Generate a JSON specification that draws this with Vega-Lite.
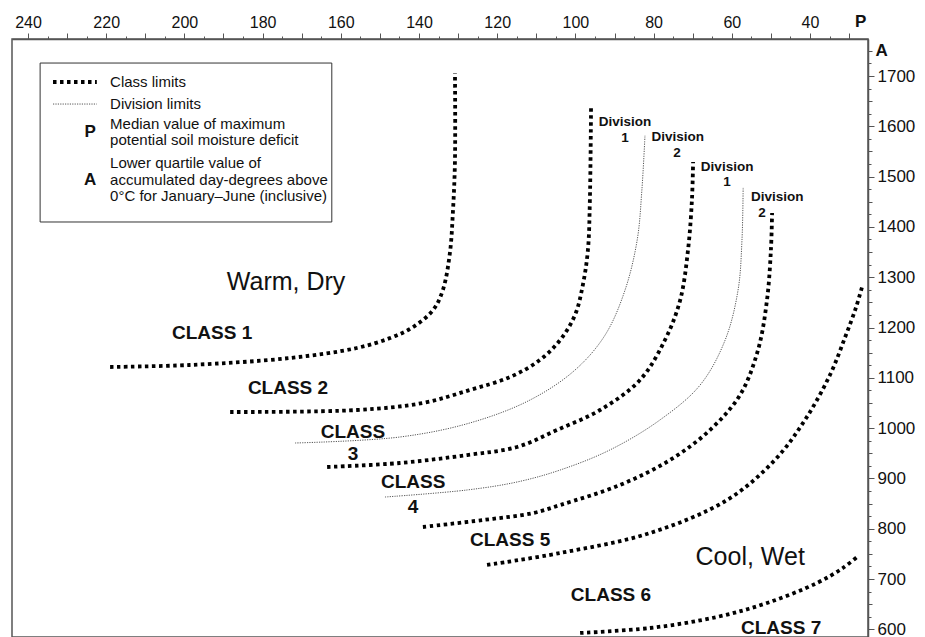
{
  "$schema": "https://vega.github.io/schema/vega-lite/v6.json",
  "width": 856,
  "height": 598,
  "autosize": {"type": "none"},
  "padding": {"left": 12, "top": 39, "right": 57, "bottom": 0},
  "background": "white",
  "config": {"view": {"stroke": "#555", "strokeWidth": 1.5}, "font": "Liberation Sans"},
  "datasets": {
    "curves": [
      {"c": "class1", "k": "class", "i": 0, "x": 219.0, "y": 1121.5},
      {"c": "class1", "k": "class", "i": 1, "x": 198.6, "y": 1125.5},
      {"c": "class1", "k": "class", "i": 2, "x": 173.0, "y": 1139.4},
      {"c": "class1", "k": "class", "i": 3, "x": 155.9, "y": 1159.3},
      {"c": "class1", "k": "class", "i": 4, "x": 147.4, "y": 1179.1},
      {"c": "class1", "k": "class", "i": 5, "x": 141.5, "y": 1201.0},
      {"c": "class1", "k": "class", "i": 6, "x": 136.4, "y": 1234.8},
      {"c": "class1", "k": "class", "i": 7, "x": 133.9, "y": 1274.6},
      {"c": "class1", "k": "class", "i": 8, "x": 132.1, "y": 1348.1},
      {"c": "class1", "k": "class", "i": 9, "x": 131.3, "y": 1433.6},
      {"c": "class1", "k": "class", "i": 10, "x": 130.8, "y": 1533.0},
      {"c": "class1", "k": "class", "i": 11, "x": 130.8, "y": 1706.0},
      {"c": "class2", "k": "class", "i": 0, "x": 188.3, "y": 1032},
      {"c": "class2", "k": "class", "i": 1, "x": 155.9, "y": 1036},
      {"c": "class2", "k": "class", "i": 2, "x": 139.0, "y": 1050},
      {"c": "class2", "k": "class", "i": 3, "x": 127.0, "y": 1075.8},
      {"c": "class2", "k": "class", "i": 4, "x": 116.7, "y": 1101.6},
      {"c": "class2", "k": "class", "i": 5, "x": 109.1, "y": 1135.4},
      {"c": "class2", "k": "class", "i": 6, "x": 103.9, "y": 1175.2},
      {"c": "class2", "k": "class", "i": 7, "x": 100.1, "y": 1224.9},
      {"c": "class2", "k": "class", "i": 8, "x": 98.1, "y": 1284.5},
      {"c": "class2", "k": "class", "i": 9, "x": 96.8, "y": 1354.1},
      {"c": "class2", "k": "class", "i": 10, "x": 96.3, "y": 1453.5},
      {"c": "class2", "k": "class", "i": 11, "x": 96.0, "y": 1642.3},
      {"c": "div3", "k": "division", "i": 0, "x": 171.7, "y": 970.4},
      {"c": "div3", "k": "division", "i": 1, "x": 144.9, "y": 982.3},
      {"c": "div3", "k": "division", "i": 2, "x": 127.0, "y": 1010.2},
      {"c": "div3", "k": "division", "i": 3, "x": 111.6, "y": 1055.9},
      {"c": "div3", "k": "division", "i": 4, "x": 100.1, "y": 1115.5},
      {"c": "div3", "k": "division", "i": 5, "x": 92.4, "y": 1185.1},
      {"c": "div3", "k": "division", "i": 6, "x": 87.3, "y": 1274.6},
      {"c": "div3", "k": "division", "i": 7, "x": 84.2, "y": 1374},
      {"c": "div3", "k": "division", "i": 8, "x": 83.0, "y": 1473.4},
      {"c": "div3", "k": "division", "i": 9, "x": 82.2, "y": 1582.7},
      {"c": "class3", "k": "class", "i": 0, "x": 163.5, "y": 922.7},
      {"c": "class3", "k": "class", "i": 1, "x": 144.9, "y": 930.6},
      {"c": "class3", "k": "class", "i": 2, "x": 127.7, "y": 946.5},
      {"c": "class3", "k": "class", "i": 3, "x": 114.9, "y": 962.5},
      {"c": "class3", "k": "class", "i": 4, "x": 104.7, "y": 996.2},
      {"c": "class3", "k": "class", "i": 5, "x": 93.7, "y": 1036},
      {"c": "class3", "k": "class", "i": 6, "x": 83.5, "y": 1095.6},
      {"c": "class3", "k": "class", "i": 7, "x": 77.1, "y": 1175.2},
      {"c": "class3", "k": "class", "i": 8, "x": 73.2, "y": 1254.7},
      {"c": "class3", "k": "class", "i": 9, "x": 71.2, "y": 1354.1},
      {"c": "class3", "k": "class", "i": 10, "x": 70.2, "y": 1453.5},
      {"c": "class3", "k": "class", "i": 11, "x": 69.9, "y": 1529},
      {"c": "div4", "k": "division", "i": 0, "x": 148.7, "y": 863},
      {"c": "div4", "k": "division", "i": 1, "x": 127.7, "y": 877},
      {"c": "div4", "k": "division", "i": 2, "x": 114.9, "y": 892.9},
      {"c": "div4", "k": "division", "i": 3, "x": 103.9, "y": 916.7},
      {"c": "div4", "k": "division", "i": 4, "x": 91.2, "y": 956.5},
      {"c": "div4", "k": "division", "i": 5, "x": 78.4, "y": 1016.1},
      {"c": "div4", "k": "division", "i": 6, "x": 68.1, "y": 1085.7},
      {"c": "div4", "k": "division", "i": 7, "x": 61.7, "y": 1175.2},
      {"c": "div4", "k": "division", "i": 8, "x": 58.4, "y": 1274.6},
      {"c": "div4", "k": "division", "i": 9, "x": 57.4, "y": 1374},
      {"c": "div4", "k": "division", "i": 10, "x": 57.1, "y": 1479.3},
      {"c": "class4", "k": "class", "i": 0, "x": 139.0, "y": 803.4},
      {"c": "class4", "k": "class", "i": 1, "x": 123.6, "y": 817.3},
      {"c": "class4", "k": "class", "i": 2, "x": 110.8, "y": 831.2},
      {"c": "class4", "k": "class", "i": 3, "x": 103.9, "y": 847.1},
      {"c": "class4", "k": "class", "i": 4, "x": 88.6, "y": 886.9},
      {"c": "class4", "k": "class", "i": 5, "x": 75.8, "y": 936.6},
      {"c": "class4", "k": "class", "i": 6, "x": 65.6, "y": 996.2},
      {"c": "class4", "k": "class", "i": 7, "x": 57.9, "y": 1065.8},
      {"c": "class4", "k": "class", "i": 8, "x": 53.3, "y": 1155.3},
      {"c": "class4", "k": "class", "i": 9, "x": 51.0, "y": 1254.7},
      {"c": "class4", "k": "class", "i": 10, "x": 50.0, "y": 1354.1},
      {"c": "class4", "k": "class", "i": 11, "x": 49.7, "y": 1427.6},
      {"c": "class5", "k": "class", "i": 0, "x": 122.6, "y": 727.9},
      {"c": "class5", "k": "class", "i": 1, "x": 103.9, "y": 751.7},
      {"c": "class5", "k": "class", "i": 2, "x": 80.9, "y": 791.5},
      {"c": "class5", "k": "class", "i": 3, "x": 61.2, "y": 857.1},
      {"c": "class5", "k": "class", "i": 4, "x": 49.0, "y": 936.6},
      {"c": "class5", "k": "class", "i": 5, "x": 41.3, "y": 1016.1},
      {"c": "class5", "k": "class", "i": 6, "x": 34.9, "y": 1105.6},
      {"c": "class5", "k": "class", "i": 7, "x": 31.0, "y": 1181.1},
      {"c": "class5", "k": "class", "i": 8, "x": 28.2, "y": 1240.8},
      {"c": "class5", "k": "class", "i": 9, "x": 26.7, "y": 1280.5},
      {"c": "class6", "k": "class", "i": 0, "x": 98.8, "y": 592.7},
      {"c": "class6", "k": "class", "i": 1, "x": 80.9, "y": 602.6},
      {"c": "class6", "k": "class", "i": 2, "x": 63.8, "y": 624.5},
      {"c": "class6", "k": "class", "i": 3, "x": 51.0, "y": 652.3},
      {"c": "class6", "k": "class", "i": 4, "x": 38.2, "y": 692.1},
      {"c": "class6", "k": "class", "i": 5, "x": 31.6, "y": 721.9},
      {"c": "class6", "k": "class", "i": 6, "x": 28.0, "y": 743.8},
      {"c": "leg-class", "k": "class", "i": 0, "x": 233.6, "y": 1688.1},
      {"c": "leg-class", "k": "class", "i": 1, "x": 222.4, "y": 1688.1},
      {"c": "leg-div", "k": "division", "i": 0, "x": 233.6, "y": 1644.3},
      {"c": "leg-div", "k": "division", "i": 1, "x": 222.4, "y": 1644.3}
    ],
    "labels": [
      {"k": "region", "text": "Warm, Dry", "x": 174.0, "y": 1290.5},
      {"k": "region", "text": "Cool, Wet", "x": 55.3, "y": 743.8},
      {"k": "class", "text": "CLASS 1", "x": 192.9, "y": 1189.1},
      {"k": "class", "text": "CLASS 2", "x": 173.5, "y": 1079.7},
      {"k": "class", "text": "CLASS", "x": 156.9, "y": 992.3},
      {"k": "class", "text": "3", "x": 156.9, "y": 948.5},
      {"k": "class", "text": "CLASS", "x": 141.5, "y": 892.9},
      {"k": "class", "text": "4", "x": 141.5, "y": 843.2},
      {"k": "class", "text": "CLASS 5", "x": 116.7, "y": 777.6},
      {"k": "class", "text": "CLASS 6", "x": 90.9, "y": 668.2},
      {"k": "class", "text": "CLASS 7", "x": 47.4, "y": 602.6},
      {"k": "division", "text": "Division", "x": 87.3, "y": 1608.6},
      {"k": "division", "text": "1", "x": 87.3, "y": 1576.7},
      {"k": "division", "text": "Division", "x": 73.8, "y": 1578.7},
      {"k": "division", "text": "2", "x": 74.0, "y": 1546.9},
      {"k": "division", "text": "Division", "x": 61.2, "y": 1519.1},
      {"k": "division", "text": "1", "x": 61.2, "y": 1489.3},
      {"k": "division", "text": "Division", "x": 48.4, "y": 1459.5},
      {"k": "division", "text": "2", "x": 52.3, "y": 1427.6},
      {"k": "legend", "text": "Class limits", "x": 219.0, "y": 1688.1},
      {"k": "legend", "text": "Division limits", "x": 219.0, "y": 1644.3},
      {"k": "legend", "text": "Median value of maximum", "x": 219.0, "y": 1604.6},
      {"k": "legend", "text": "potential soil moisture deficit", "x": 219.0, "y": 1572.8},
      {"k": "legend", "text": "Lower quartile value of", "x": 219.0, "y": 1527.0},
      {"k": "legend", "text": "accumulated day-degrees above", "x": 219.0, "y": 1493.2},
      {"k": "legend", "text": "0°C for January–June (inclusive)", "x": 219.0, "y": 1461.4},
      {"k": "symbol", "text": "P", "x": 224.1, "y": 1588.7},
      {"k": "symbol", "text": "A", "x": 224.1, "y": 1493.2}
    ],
    "box": [
      {"x": 236.9, "x2": 162.3, "y": 1725.8, "y2": 1409.8}
    ]
  },
  "encoding": {
    "x": {
      "field": "x", "type": "quantitative",
      "scale": {"domain": [25.17, 244.09], "reverse": true, "nice": false, "zero": false},
      "axis": {
        "orient": "top", "title": null, "grid": false,
        "values": [30,35,40,45,50,55,60,65,70,75,80,85,90,95,100,105,110,115,120,125,130,135,140,145,150,155,160,165,170,175,180,185,190,195,200,205,210,215,220,225,230,235,240],
        "format": "d",
        "labelExpr": "datum.value == 30 ? 'P' : (datum.value % 20 == 0 ? datum.label : '')",
        "labelFontSize": {"condition": {"test": "datum.value == 30", "value": 17}, "value": 16},
        "labelFontWeight": {"condition": {"test": "datum.value == 30", "value": "bold"}, "value": "normal"},
        "labelOffset": {"condition": {"test": "datum.value == 30", "value": 11}, "value": 0},
        "labelColor": "#111", "labelPadding": 3, "labelFlush": false, "labelOverlap": false, "labelBound": false,
        "domainColor": "#555", "domainWidth": 1.5, "tickColor": "#555", "tickWidth": 1,
        "tickSize": {"condition": {"test": "datum.value % 10 == 0", "value": 6}, "value": 3}
      }
    },
    "y": {
      "field": "y", "type": "quantitative",
      "scale": {"domain": [584.7, 1773.6], "nice": false, "zero": false},
      "axis": {
        "orient": "right", "title": null, "grid": false,
        "values": [600,625,650,675,700,725,750,775,800,825,850,875,900,925,950,975,1000,1025,1050,1075,1100,1125,1150,1175,1200,1225,1250,1275,1300,1325,1350,1375,1400,1425,1450,1475,1500,1525,1550,1575,1600,1625,1650,1675,1700,1725,1750],
        "format": "d",
        "labelExpr": "datum.value == 1750 ? 'A' : (datum.value % 100 == 0 ? datum.label : '')",
        "labelFontSize": {"condition": {"test": "datum.value == 1750", "value": 17}, "value": 17},
        "labelFontWeight": {"condition": {"test": "datum.value == 1750", "value": "bold"}, "value": "normal"},
        "labelColor": "#111", "labelPadding": 3, "labelFlush": false, "labelOverlap": false, "labelBound": false,
        "domainColor": "#555", "domainWidth": 1.5, "tickColor": "#555", "tickWidth": 1,
        "tickSize": {"condition": [{"test": "datum.value % 100 == 0", "value": 6}, {"test": "datum.value % 50 == 0", "value": 4}], "value": 3}
      }
    }
  },
  "layer": [
    {
      "data": {"name": "box"},
      "mark": {"type": "rect", "fill": "white", "stroke": "#333", "strokeWidth": 1},
      "encoding": {"x2": {"field": "x2"}, "y2": {"field": "y2"}}
    },
    {
      "data": {"name": "curves"},
      "transform": [{"filter": "datum.k == 'division'"}],
      "mark": {"type": "line", "interpolate": "catmull-rom", "stroke": "#555", "strokeWidth": 1, "strokeDash": [1.2, 1.2]},
      "encoding": {"detail": {"field": "c"}, "order": {"field": "i", "type": "quantitative"}}
    },
    {
      "data": {"name": "curves"},
      "transform": [{"filter": "datum.k == 'class'"}],
      "mark": {"type": "line", "interpolate": "catmull-rom", "stroke": "#000", "strokeWidth": 3.8, "strokeDash": [3.5, 3.5], "strokeCap": "butt"},
      "encoding": {"detail": {"field": "c"}, "order": {"field": "i", "type": "quantitative"}}
    },
    {
      "data": {"name": "labels"},
      "transform": [{"filter": "datum.k == 'region'"}],
      "mark": {"type": "text", "fontSize": 25, "align": "center", "baseline": "middle", "color": "#111"},
      "encoding": {"text": {"field": "text"}}
    },
    {
      "data": {"name": "labels"},
      "transform": [{"filter": "datum.k == 'class'"}],
      "mark": {"type": "text", "fontSize": 19, "fontWeight": "bold", "align": "center", "baseline": "middle", "color": "#111"},
      "encoding": {"text": {"field": "text"}}
    },
    {
      "data": {"name": "labels"},
      "transform": [{"filter": "datum.k == 'division'"}],
      "mark": {"type": "text", "fontSize": 13.5, "fontWeight": "bold", "align": "center", "baseline": "middle", "color": "#111"},
      "encoding": {"text": {"field": "text"}}
    },
    {
      "data": {"name": "labels"},
      "transform": [{"filter": "datum.k == 'legend'"}],
      "mark": {"type": "text", "fontSize": 15, "align": "left", "baseline": "middle", "color": "#111"},
      "encoding": {"text": {"field": "text"}}
    },
    {
      "data": {"name": "labels"},
      "transform": [{"filter": "datum.k == 'symbol'"}],
      "mark": {"type": "text", "fontSize": 17, "fontWeight": "bold", "align": "center", "baseline": "middle", "color": "#111"},
      "encoding": {"text": {"field": "text"}}
    }
  ]
}
